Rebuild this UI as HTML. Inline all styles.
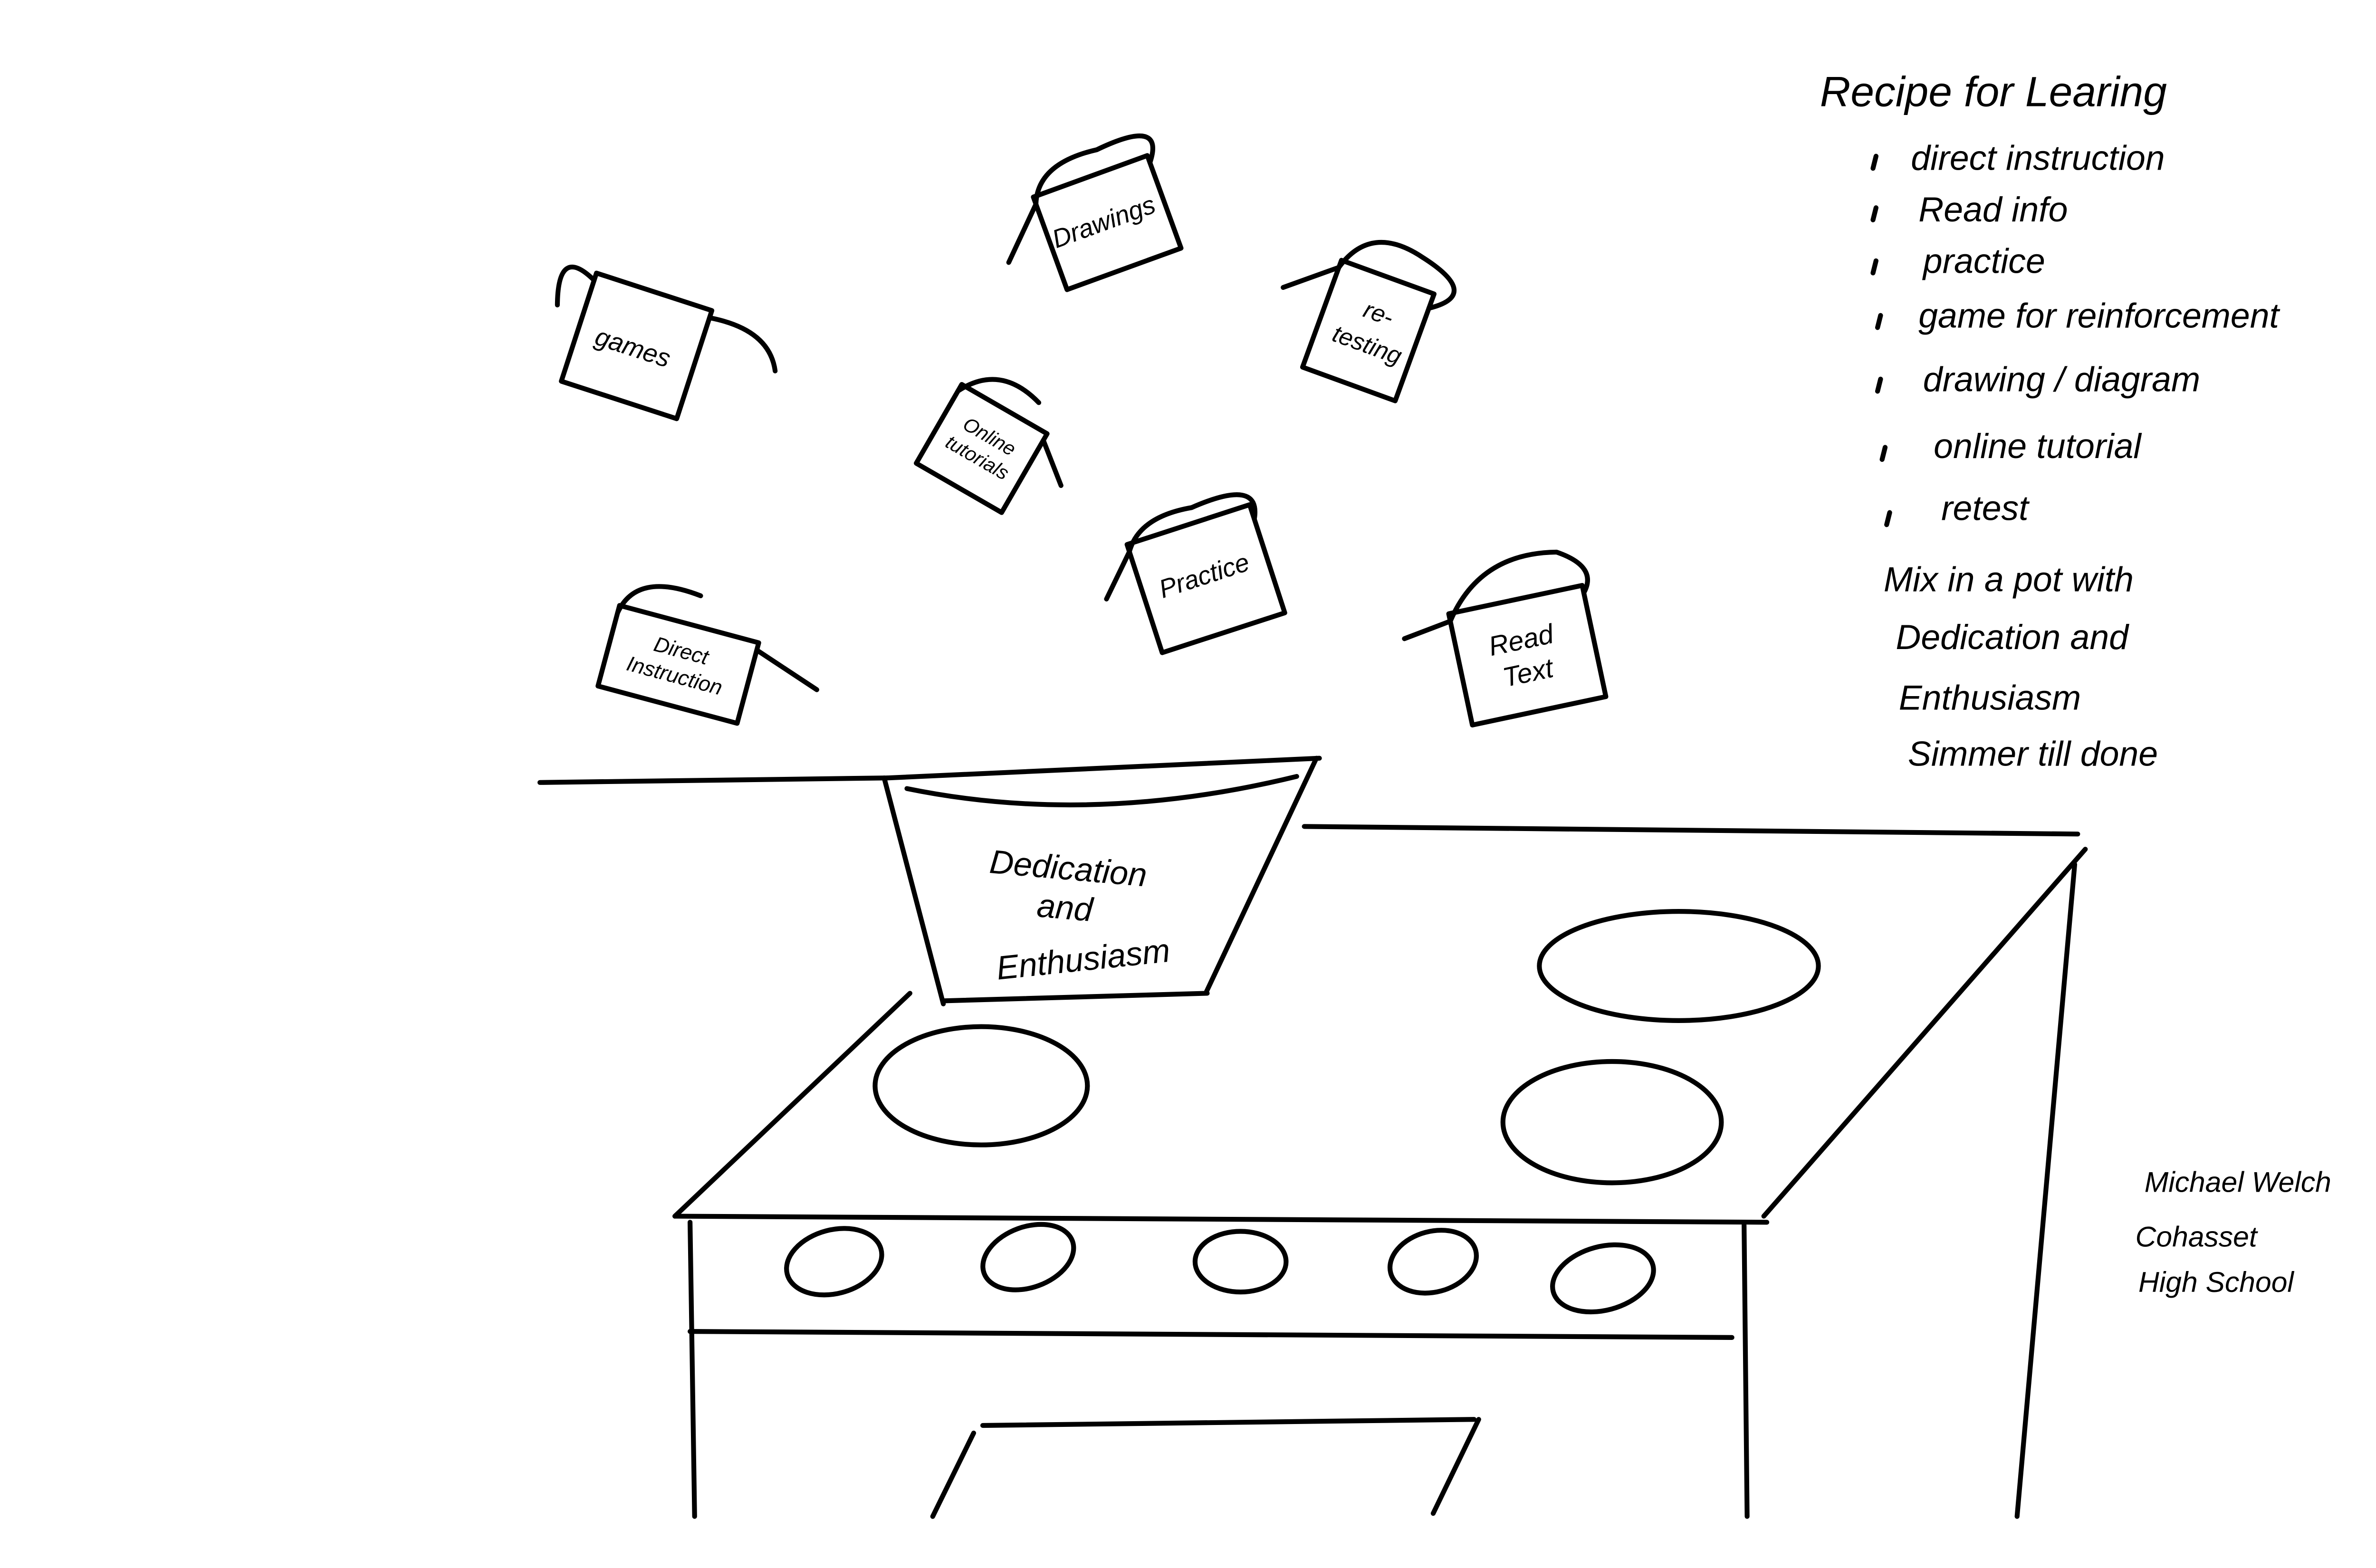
<!DOCTYPE html>
<html><head><meta charset="utf-8"><style>
html,body{margin:0;padding:0;background:#fff;}
svg{display:block;}
text{font-family:"Liberation Sans",sans-serif;fill:#000;}
</style></head><body>
<svg width="5100" height="3300" viewBox="0 0 1598 1034" preserveAspectRatio="none" xmlns="http://www.w3.org/2000/svg">
<g fill="none" stroke="#000" stroke-width="3.2" stroke-linecap="round" stroke-linejoin="round">
<path d="M356 516 L585 513"/>
<path d="M860 545 L1370 550"/>
<path d="M445 802 L600 655"/>
<path d="M1375 560 L1163 802"/>
<path d="M1368 570 L1330 1000"/>
<path d="M445 802 L1165 806"/>
<path d="M455 806 L458 1000"/>
<path d="M1150 808 L1152 1000"/>
<path d="M455 878 L1142 882"/>
<path d="M648 940 L972 936"/>
<path d="M642 945 L615 1000"/>
<path d="M975 936 L945 998"/>
<ellipse cx="1107" cy="637" rx="92" ry="36"/>
<ellipse cx="647" cy="716" rx="70" ry="39"/>
<ellipse cx="1063" cy="740" rx="72" ry="40"/>
<ellipse cx="550" cy="832" rx="32" ry="21" transform="rotate(-15 550 832)"/>
<ellipse cx="678" cy="829" rx="31" ry="20" transform="rotate(-20 678 829)"/>
<ellipse cx="818" cy="832" rx="30" ry="20"/>
<ellipse cx="945" cy="832" rx="29" ry="20" transform="rotate(-15 945 832)"/>
<ellipse cx="1057" cy="843" rx="34" ry="21" transform="rotate(-15 1057 843)"/>
<path d="M585 513 L870 500"/>
<path d="M583 513 L622 662"/>
<path d="M598 520 Q720 545 855 512"/>
<path d="M868 500 L795 655"/>
<path d="M622 660 L796 655"/>
<g transform="rotate(18 418 227)"><rect x="380" y="190" width="80" height="75"/><path d="M380 195 Q350 180 362 218 M460 195 Q500 190 512 215"/></g>
<g transform="rotate(-20 728 147)"><rect x="690" y="115" width="80" height="65"/><path d="M690 120 Q700 95 740 100 Q790 95 770 120 M690 120 L660 150"/></g>
<g transform="rotate(20 901 217)"><rect x="870" y="180" width="65" height="75"/><path d="M870 185 Q880 150 920 160 Q965 170 935 190 M870 185 L840 210"/></g>
<g transform="rotate(30 646 295)"><rect x="615" y="265" width="65" height="60"/><path d="M615 270 Q630 240 665 250 M680 270 L705 290"/></g>
<g transform="rotate(-18 792 380)"><rect x="752" y="345" width="85" height="75"/><path d="M752 350 Q765 330 800 335 Q850 330 837 355 M752 350 L728 375"/></g>
<g transform="rotate(15 445 437)"><rect x="400" y="410" width="95" height="55"/><path d="M400 415 Q405 385 450 390 M495 415 L540 430"/></g>
<g transform="rotate(-12 1005 432)"><rect x="962" y="395" width="90" height="75"/><path d="M962 400 Q990 360 1040 370 Q1065 385 1052 400 M962 400 L930 405"/></g>
<path d="M1237 103 l-2 8 M1237 137 l-2 8 M1237 172 l-2 8 M1240 208 l-2 8 M1240 250 l-2 8 M1243 295 l-2 8 M1246 338 l-2 8"/>
</g>
<g font-style="italic" font-size="17">
<text x="418" y="235" transform="rotate(18 418 227)" text-anchor="middle">games</text>
<text x="728" y="152" transform="rotate(-20 728 147)" text-anchor="middle">Drawings</text>
<text x="905" y="210" transform="rotate(20 901 217)" text-anchor="middle" font-size="16">re-</text>
<text x="905" y="232" transform="rotate(20 901 217)" text-anchor="middle" font-size="16">testing</text>
<text x="648" y="290" transform="rotate(30 646 295)" text-anchor="middle" font-size="13">Online</text>
<text x="648" y="306" transform="rotate(30 646 295)" text-anchor="middle" font-size="13">tutorials</text>
<text x="794" y="386" transform="rotate(-18 792 380)" text-anchor="middle">Practice</text>
<text x="447" y="433" transform="rotate(15 445 437)" text-anchor="middle" font-size="14">Direct</text>
<text x="447" y="450" transform="rotate(15 445 437)" text-anchor="middle" font-size="14">Instruction</text>
<text x="1005" y="428" transform="rotate(-12 1005 432)" text-anchor="middle" font-size="18">Read</text>
<text x="1005" y="450" transform="rotate(-12 1005 432)" text-anchor="middle" font-size="18">Text</text>
<text x="702" y="580" text-anchor="middle" font-size="22" transform="rotate(5 702 600)">Dedication</text>
<text x="702" y="606" text-anchor="middle" font-size="22" transform="rotate(5 702 600)">and</text>
<text x="715" y="640" text-anchor="middle" font-size="22" transform="rotate(-6 715 640)">Enthusiasm</text>
</g>
<g font-size="23" font-style="italic">
<text x="1200" y="70" font-size="28">Recipe for Learing</text>
<text x="1260" y="112">direct instruction</text>
<text x="1265" y="146">Read info</text>
<text x="1268" y="180">practice</text>
<text x="1265" y="216">game for reinforcement</text>
<text x="1268" y="258">drawing / diagram</text>
<text x="1275" y="302">online tutorial</text>
<text x="1280" y="343">retest</text>
<text x="1242" y="390">Mix in a pot with</text>
<text x="1250" y="428">Dedication and</text>
<text x="1252" y="468">Enthusiasm</text>
<text x="1258" y="505">Simmer till done</text>
</g>
<g font-size="19" font-style="italic">
<text x="1414" y="786">Michael Welch</text>
<text x="1408" y="822">Cohasset</text>
<text x="1410" y="852">High School</text>
</g>
</svg>
</body></html>
